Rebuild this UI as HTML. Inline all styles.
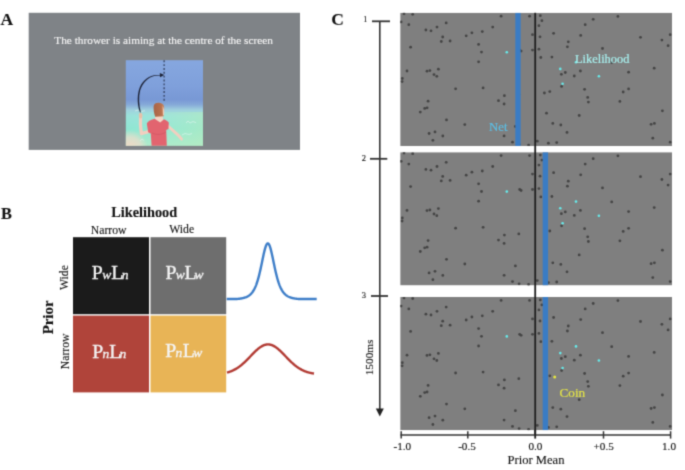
<!DOCTYPE html>
<html><head><meta charset="utf-8"><title>Figure</title>
<style>
html,body{margin:0;padding:0;background:#fff;width:685px;height:470px;overflow:hidden}
svg{display:block}
body{font-family:"Liberation Serif",serif}

</style></head><body>
<svg width="685" height="470" viewBox="0 0 685 470" fill="#111">
<defs><filter id="soft" color-interpolation-filters="sRGB" x="0" y="0" width="685" height="470" filterUnits="userSpaceOnUse"><feConvolveMatrix order="3" kernelMatrix="1 4 1 4 16 4 1 4 1" edgeMode="duplicate"/></filter></defs>
<rect width="685" height="470" fill="#fff"/>
<g filter="url(#soft)">
<rect width="685" height="470" fill="#fff"/>
<text x="0.6" y="24.6" text-anchor="start" style="font-family:&quot;Liberation Serif&quot;,serif;font-size:17.5px;font-weight:bold;fill:#111;stroke:#111;stroke-width:0.1px;">A</text>
<text x="0.9" y="218.6" text-anchor="start" style="font-family:&quot;Liberation Serif&quot;,serif;font-size:16.4px;font-weight:bold;fill:#111;stroke:#111;stroke-width:0.1px;">B</text>
<text x="331.2" y="24.6" text-anchor="start" style="font-family:&quot;Liberation Serif&quot;,serif;font-size:17.5px;font-weight:bold;fill:#111;stroke:#111;stroke-width:0.1px;">C</text>
<rect x="28.7" y="12.8" width="271.3" height="137.1" fill="#7f8387"/>
<text x="54.3" y="43.8" text-anchor="start" style="font-family:&quot;Liberation Serif&quot;,serif;font-size:11.3px;font-weight:normal;fill:#f6f6f6;stroke:#f6f6f6;stroke-width:0.12px;">The thrower is aiming at the centre of the screen</text>
<defs>
<linearGradient id="sky" x1="0" y1="60" x2="0" y2="146" gradientUnits="userSpaceOnUse">
<stop offset="0" stop-color="#86a7df"/>
<stop offset="0.3" stop-color="#7fa0db"/>
<stop offset="0.46" stop-color="#7898d5"/>
<stop offset="0.52" stop-color="#86aad8"/>
<stop offset="0.58" stop-color="#a0d0de"/>
<stop offset="0.65" stop-color="#9ae2da"/>
<stop offset="0.8" stop-color="#8fe6d2"/>
<stop offset="1" stop-color="#b0eac8"/>
</linearGradient>
<radialGradient id="peach" cx="130" cy="148" r="18" gradientUnits="userSpaceOnUse">
<stop offset="0" stop-color="#f0d8c4" stop-opacity="1"/>
<stop offset="0.6" stop-color="#eedccc" stop-opacity="0.7"/>
<stop offset="1" stop-color="#eedccc" stop-opacity="0"/>
</radialGradient>
<linearGradient id="green" x1="126" y1="0" x2="203" y2="0" gradientUnits="userSpaceOnUse">
<stop offset="0" stop-color="#a8f0e0" stop-opacity="0"/>
<stop offset="1" stop-color="#b4ecc0" stop-opacity="0.6"/>
</linearGradient>
<linearGradient id="hair" x1="0" y1="0" x2="1" y2="0">
<stop offset="0" stop-color="#a86446"/>
<stop offset="0.7" stop-color="#b8724e"/>
<stop offset="1" stop-color="#c88a66"/>
</linearGradient>
</defs>
<rect x="125.8" y="60.2" width="77.2" height="85.6" fill="url(#sky)"/>
<rect x="125.8" y="112" width="77.2" height="33.8" fill="url(#green)"/>
<rect x="125.8" y="120" width="40" height="25.8" fill="url(#peach)"/>
<path d="M135,111 l3,-1 l3,1.5 l4,-0.8 M186,123 l2,-2 l2,2 l3,-1.5 l3,1.2 M182,135 l3,-1.5 l4,1 l3,-1 M140,141 l2,-2 l2,1.5" stroke="#e6f6f2" stroke-width="0.7" fill="none" opacity="0.8"/>
<line x1="164.1" y1="60.3" x2="164.1" y2="102.6" stroke="#222b45" stroke-width="1.05" stroke-dasharray="1.9,1.95"/>
<path d="M140.0,112.6 C137.5,106 137.0,97 138.9,90 C141.2,82 147,76.6 154,75.2 L160.5,74.9 L160.5,75.6 L154.2,76.0 C148,77.4 142.5,83 140.2,90.3 C138.4,97 139,105 140.8,112.2 Z" fill="#1c2236"/>
<path d="M164.3,75.1 L159.8,72.9 L160.0,77.3 Z" fill="#1c2236"/>
<path d="M167.5,125.5 C171,129 176,133 179,136 L181.6,139.2" stroke="#f2cfc0" stroke-width="2.8" fill="none" stroke-linecap="round"/>
<path d="M149,131.5 L141.4,133.6 C140.4,128 140.2,121 140.6,115" stroke="#f2cfc0" stroke-width="3.2" fill="none" stroke-linecap="round" stroke-linejoin="round"/>
<ellipse cx="140.6" cy="115.6" rx="1.8" ry="2.8" fill="#e8c0a8"/>
<path d="M155,115 L162.6,115 L163.2,120.5 L160.2,123 L155.2,119.5 Z" fill="#f4d6c6"/>
<path d="M146.8,123.6 C148,121.5 150,120 154.6,118.8 L160.2,122.6 L164,119.3 C165.5,120 167,120.8 168.8,122.6 L168.4,129 L166.2,130 L166.8,145.8 L151.6,145.8 L150.8,133.4 L148.2,132.2 Z" fill="#e2646f"/>
<path d="M152,133 C156,135 162,135 166,132" stroke="#c84e5c" stroke-width="0.5" fill="none"/>
<path d="M153.6,106.5 C153.8,103.6 156.5,102.6 159,102.8 C162,103 164.2,104.6 164.2,107.5 L163.8,116.2 L155.2,116.8 C154,113.5 153.5,110 153.6,106.5 Z" fill="url(#hair)"/>
<path d="M162.6,106 C164,108 164.6,111 164,114.5 L163,116 Z" fill="#f0cbb8"/>
<text x="111.2" y="217" text-anchor="start" style="font-family:&quot;Liberation Serif&quot;,serif;font-size:14.3px;font-weight:bold;fill:#111;stroke:#111;stroke-width:0.1px;">Likelihood</text>
<text x="90.8" y="233.6" text-anchor="start" style="font-family:&quot;Liberation Serif&quot;,serif;font-size:11.7px;font-weight:normal;fill:#111;stroke:#111;stroke-width:0.12px;">Narrow</text>
<text x="169.3" y="233.4" text-anchor="start" style="font-family:&quot;Liberation Serif&quot;,serif;font-size:11.7px;font-weight:normal;fill:#111;stroke:#111;stroke-width:0.12px;">Wide</text>
<rect x="73" y="237.2" width="76" height="77" fill="#1b1b1b"/>
<rect x="150.5" y="237.2" width="75.7" height="77" fill="#6e6e6e"/>
<rect x="73" y="315.6" width="76" height="76.8" fill="#b0443a"/>
<rect x="150.5" y="315.6" width="75.7" height="76.8" fill="#e8b456"/>
<text y="278.9" style="font-family:&quot;Liberation Serif&quot;,serif;fill:#f4f4f4;stroke:#f4f4f4;stroke-width:0.35px"><tspan x="91.85" font-size="19.8">P</tspan><tspan x="102.3" font-size="13.5" font-style="italic">w</tspan><tspan x="111.2" font-size="19.8">L</tspan><tspan x="121.8" font-size="13.5" font-style="italic">n</tspan></text>
<text y="278.8" style="font-family:&quot;Liberation Serif&quot;,serif;fill:#f4f4f4;stroke:#f4f4f4;stroke-width:0.35px"><tspan x="165.4" font-size="19.8">P</tspan><tspan x="175.8" font-size="13.5" font-style="italic">w</tspan><tspan x="184.6" font-size="19.8">L</tspan><tspan x="194.4" font-size="13.5" font-style="italic">w</tspan></text>
<text y="357.6" style="font-family:&quot;Liberation Serif&quot;,serif;fill:#f4f4f4;stroke:#f4f4f4;stroke-width:0.35px"><tspan x="92.2" font-size="19.8">P</tspan><tspan x="102.5" font-size="13.5" font-style="italic">n</tspan><tspan x="109.3" font-size="19.8">L</tspan><tspan x="119.5" font-size="13.5" font-style="italic">n</tspan></text>
<text y="357.4" style="font-family:&quot;Liberation Serif&quot;,serif;fill:#f4f4f4;stroke:#f4f4f4;stroke-width:0.35px"><tspan x="165.15" font-size="19.8">P</tspan><tspan x="175.4" font-size="13.5" font-style="italic">n</tspan><tspan x="182.7" font-size="19.8">L</tspan><tspan x="193.3" font-size="13.5" font-style="italic">w</tspan></text>
<text transform="translate(68.4,277.6) rotate(-90)" text-anchor="middle" style="font-family:&quot;Liberation Serif&quot;,serif;font-size:11.7px;font-weight:normal;fill:#111;stroke:#111;stroke-width:0.12px;">Wide</text>
<text transform="translate(52.7,317.4) rotate(-90)" text-anchor="middle" style="font-family:&quot;Liberation Serif&quot;,serif;font-size:14.9px;font-weight:bold;fill:#111;stroke:#111;stroke-width:0.1px;">Prior</text>
<text transform="translate(68.6,351.4) rotate(-90)" text-anchor="middle" style="font-family:&quot;Liberation Serif&quot;,serif;font-size:11.7px;font-weight:normal;fill:#111;stroke:#111;stroke-width:0.12px;">Narrow</text>
<path d="M226.70,299.00 L227.20,299.00 L227.70,299.00 L228.20,299.00 L228.70,299.00 L229.20,299.00 L229.70,299.00 L230.20,299.00 L230.70,299.00 L231.20,299.00 L231.70,299.00 L232.20,299.00 L232.70,299.00 L233.20,299.00 L233.70,299.00 L234.20,299.00 L234.70,299.00 L235.20,299.00 L235.70,299.00 L236.20,299.00 L236.70,299.00 L237.20,298.97 L237.70,298.92 L238.20,298.87 L238.70,298.81 L239.20,298.75 L239.70,298.69 L240.20,298.62 L240.70,298.54 L241.20,298.46 L241.70,298.37 L242.20,298.27 L242.70,298.17 L243.20,298.05 L243.70,297.92 L244.20,297.78 L244.70,297.63 L245.20,297.46 L245.70,297.28 L246.20,297.08 L246.70,296.86 L247.20,296.62 L247.70,296.36 L248.20,296.07 L248.70,295.75 L249.20,295.40 L249.70,295.02 L250.20,294.60 L250.70,294.13 L251.20,293.62 L251.70,293.06 L252.20,292.45 L252.70,291.77 L253.20,291.03 L253.70,290.21 L254.20,289.32 L254.70,288.34 L255.20,287.28 L255.70,286.11 L256.20,284.85 L256.70,283.47 L257.20,281.99 L257.70,280.39 L258.20,278.67 L258.70,276.83 L259.20,274.87 L259.70,272.80 L260.20,270.63 L260.70,268.37 L261.20,266.03 L261.70,263.64 L262.20,261.22 L262.70,258.80 L263.20,256.42 L263.70,254.12 L264.20,251.93 L264.70,249.91 L265.20,248.10 L265.70,246.53 L266.20,245.25 L266.70,244.28 L267.20,243.66 L267.70,243.41 L268.20,243.52 L268.70,243.99 L269.20,244.82 L269.70,245.98 L270.20,247.44 L270.70,249.16 L271.20,251.10 L271.70,253.23 L272.20,255.49 L272.70,257.84 L273.20,260.25 L273.70,262.67 L274.20,265.08 L274.70,267.44 L275.20,269.74 L275.70,271.95 L276.20,274.06 L276.70,276.06 L277.20,277.94 L277.70,279.71 L278.20,281.36 L278.70,282.89 L279.20,284.31 L279.70,285.62 L280.20,286.82 L280.70,287.93 L281.20,288.94 L281.70,289.86 L282.20,290.71 L282.70,291.48 L283.20,292.18 L283.70,292.82 L284.20,293.40 L284.70,293.93 L285.20,294.42 L285.70,294.85 L286.20,295.25 L286.70,295.62 L287.20,295.95 L287.70,296.25 L288.20,296.52 L288.70,296.77 L289.20,297.00 L289.70,297.20 L290.20,297.39 L290.70,297.57 L291.20,297.72 L291.70,297.87 L292.20,298.00 L292.70,298.12 L293.20,298.23 L293.70,298.33 L294.20,298.43 L294.70,298.51 L295.20,298.59 L295.70,298.66 L296.20,298.73 L296.70,298.79 L297.20,298.85 L297.70,298.90 L298.20,298.95 L298.70,298.99 L299.20,299.00 L299.70,299.00 L300.20,299.00 L300.70,299.00 L301.20,299.00 L301.70,299.00 L302.20,299.00 L302.70,299.00 L303.20,299.00 L303.70,299.00 L304.20,299.00 L304.70,299.00 L305.20,299.00 L305.70,299.00 L306.20,299.00 L306.70,299.00 L307.20,299.00 L307.70,299.00 L308.20,299.00 L308.70,299.00 L309.20,299.00 L309.70,299.00 L310.20,299.00 L310.70,299.00 L311.20,299.00 L311.70,299.00 L312.20,299.00 L312.70,299.00 L313.20,299.00 L313.70,299.00 L314.20,299.00 L314.70,299.00 L315.20,299.00 L315.70,299.00 L316.20,299.00 L316.70,299.00" fill="none" stroke="#3e7ec8" stroke-width="2.4" stroke-linejoin="round"/>
<path d="M227.00,372.57 L227.50,372.43 L228.00,372.29 L228.50,372.14 L229.00,371.99 L229.50,371.82 L230.00,371.65 L230.50,371.47 L231.00,371.28 L231.50,371.08 L232.00,370.87 L232.50,370.65 L233.00,370.43 L233.50,370.19 L234.00,369.94 L234.50,369.68 L235.00,369.41 L235.50,369.13 L236.00,368.84 L236.50,368.54 L237.00,368.23 L237.50,367.91 L238.00,367.58 L238.50,367.23 L239.00,366.87 L239.50,366.51 L240.00,366.13 L240.50,365.74 L241.00,365.34 L241.50,364.94 L242.00,364.52 L242.50,364.09 L243.00,363.65 L243.50,363.20 L244.00,362.75 L244.50,362.28 L245.00,361.81 L245.50,361.33 L246.00,360.84 L246.50,360.35 L247.00,359.85 L247.50,359.34 L248.00,358.83 L248.50,358.32 L249.00,357.80 L249.50,357.29 L250.00,356.76 L250.50,356.24 L251.00,355.72 L251.50,355.20 L252.00,354.68 L252.50,354.17 L253.00,353.65 L253.50,353.15 L254.00,352.64 L254.50,352.15 L255.00,351.66 L255.50,351.18 L256.00,350.71 L256.50,350.25 L257.00,349.80 L257.50,349.36 L258.00,348.93 L258.50,348.52 L259.00,348.13 L259.50,347.75 L260.00,347.39 L260.50,347.04 L261.00,346.71 L261.50,346.41 L262.00,346.12 L262.50,345.85 L263.00,345.60 L263.50,345.38 L264.00,345.18 L264.50,345.00 L265.00,344.84 L265.50,344.71 L266.00,344.60 L266.50,344.51 L267.00,344.45 L267.50,344.41 L268.00,344.40 L268.50,344.41 L269.00,344.45 L269.50,344.51 L270.00,344.60 L270.50,344.71 L271.00,344.84 L271.50,345.00 L272.00,345.18 L272.50,345.38 L273.00,345.60 L273.50,345.85 L274.00,346.12 L274.50,346.41 L275.00,346.71 L275.50,347.04 L276.00,347.39 L276.50,347.75 L277.00,348.13 L277.50,348.52 L278.00,348.93 L278.50,349.36 L279.00,349.80 L279.50,350.25 L280.00,350.71 L280.50,351.18 L281.00,351.66 L281.50,352.15 L282.00,352.64 L282.50,353.15 L283.00,353.65 L283.50,354.17 L284.00,354.68 L284.50,355.20 L285.00,355.72 L285.50,356.24 L286.00,356.76 L286.50,357.29 L287.00,357.80 L287.50,358.32 L288.00,358.83 L288.50,359.34 L289.00,359.85 L289.50,360.35 L290.00,360.84 L290.50,361.33 L291.00,361.81 L291.50,362.28 L292.00,362.75 L292.50,363.20 L293.00,363.65 L293.50,364.09 L294.00,364.52 L294.50,364.94 L295.00,365.34 L295.50,365.74 L296.00,366.13 L296.50,366.51 L297.00,366.87 L297.50,367.23 L298.00,367.58 L298.50,367.91 L299.00,368.23 L299.50,368.54 L300.00,368.84 L300.50,369.13 L301.00,369.41 L301.50,369.68 L302.00,369.94 L302.50,370.19 L303.00,370.43 L303.50,370.65 L304.00,370.87 L304.50,371.08 L305.00,371.28 L305.50,371.47 L306.00,371.65 L306.50,371.82 L307.00,371.99 L307.50,372.14 L308.00,372.29 L308.50,372.43 L309.00,372.57 L309.50,372.69 L310.00,372.81 L310.50,372.92 L311.00,373.03 L311.50,373.13 L312.00,373.22 L312.50,373.31 L313.00,373.40 L313.50,373.48 L314.00,373.55" fill="none" stroke="#b23b34" stroke-width="2.4" stroke-linejoin="round"/>
<defs><clipPath id="pclip"><rect x="0" y="0" width="271.8" height="133.2"/></clipPath></defs>
<g transform="translate(400.2,12.8)" clip-path="url(#pclip)"><rect x="0" y="0" width="271.8" height="133.2" fill="#7f7f7f"/><g fill="#444444"><circle cx="12.5" cy="1.5" r="1.4"/><circle cx="3.8" cy="0.9" r="1.4"/><circle cx="8.6" cy="11.9" r="1.4"/><circle cx="46" cy="10.1" r="1.4"/><circle cx="36.8" cy="14.3" r="1.4"/><circle cx="25.7" cy="17.2" r="1.4"/><circle cx="30.8" cy="18.0" r="1.4"/><circle cx="42.5" cy="24.2" r="1.4"/><circle cx="66" cy="23.0" r="1.4"/><circle cx="41.1" cy="28.7" r="1.4"/><circle cx="49.9" cy="28.2" r="1.4"/><circle cx="10.4" cy="34.4" r="1.4"/><circle cx="6.8" cy="58.2" r="1.4"/><circle cx="26.8" cy="58.4" r="1.4"/><circle cx="29.7" cy="57.8" r="1.4"/><circle cx="38.2" cy="56.4" r="1.4"/><circle cx="33.8" cy="61.8" r="1.4"/><circle cx="36.6" cy="63.5" r="1.4"/><circle cx="2.1" cy="65.7" r="1.4"/><circle cx="0.9" cy="9.1" r="1.4"/><circle cx="100.9" cy="3.4" r="1.4"/><circle cx="129.4" cy="3.4" r="1.4"/><circle cx="92.5" cy="14.3" r="1.4"/><circle cx="82.1" cy="18.8" r="1.4"/><circle cx="71.7" cy="20.0" r="1.4"/><circle cx="132.3" cy="21.9" r="1.4"/><circle cx="78.4" cy="31.6" r="1.4"/><circle cx="81.3" cy="39.3" r="1.4"/><circle cx="119.5" cy="37.3" r="1.4"/><circle cx="120.9" cy="38.3" r="1.4"/><circle cx="132.3" cy="37.3" r="1.4"/><circle cx="78.4" cy="49.0" r="1.4"/><circle cx="140.1" cy="2.9" r="1.4"/><circle cx="141.7" cy="7.9" r="1.4"/><circle cx="138.7" cy="12.9" r="1.4"/><circle cx="193" cy="6.5" r="1.4"/><circle cx="185" cy="11.9" r="1.4"/><circle cx="153.4" cy="20.5" r="1.4"/><circle cx="180.5" cy="22.6" r="1.4"/><circle cx="139.8" cy="24.0" r="1.4"/><circle cx="168.1" cy="29.0" r="1.4"/><circle cx="167.2" cy="34.0" r="1.4"/><circle cx="138.7" cy="36.4" r="1.4"/><circle cx="151.7" cy="44.3" r="1.4"/><circle cx="140.6" cy="44.7" r="1.4"/><circle cx="180.2" cy="58.2" r="1.4"/><circle cx="165.1" cy="59.7" r="1.4"/><circle cx="161.2" cy="61.5" r="1.4"/><circle cx="174.1" cy="63.2" r="1.4"/><circle cx="217.7" cy="3.6" r="1.4"/><circle cx="240.3" cy="24.5" r="1.4"/><circle cx="261.7" cy="27.3" r="1.4"/><circle cx="270" cy="21.9" r="1.4"/><circle cx="267.9" cy="32.9" r="1.4"/><circle cx="202.3" cy="35.7" r="1.4"/><circle cx="211.5" cy="49.7" r="1.4"/><circle cx="254" cy="55.4" r="1.4"/><circle cx="228.4" cy="59.4" r="1.4"/><circle cx="1.9" cy="68.8" r="1.4"/><circle cx="55.4" cy="76.0" r="1.4"/><circle cx="27.9" cy="88.4" r="1.4"/><circle cx="24.5" cy="95.6" r="1.4"/><circle cx="26.9" cy="95.0" r="1.4"/><circle cx="20.1" cy="99.3" r="1.4"/><circle cx="46.3" cy="107.1" r="1.4"/><circle cx="64.6" cy="111.8" r="1.4"/><circle cx="28.9" cy="120.7" r="1.4"/><circle cx="34.8" cy="119.1" r="1.4"/><circle cx="42.6" cy="123.2" r="1.4"/><circle cx="32.7" cy="127.5" r="1.4"/><circle cx="82.9" cy="75.1" r="1.4"/><circle cx="104.2" cy="82.9" r="1.4"/><circle cx="118.6" cy="81.7" r="1.4"/><circle cx="98.3" cy="87.9" r="1.4"/><circle cx="103.9" cy="91.2" r="1.4"/><circle cx="115.2" cy="113.7" r="1.4"/><circle cx="103.9" cy="123.1" r="1.4"/><circle cx="112.3" cy="129.4" r="1.4"/><circle cx="118.9" cy="131.6" r="1.4"/><circle cx="128.4" cy="132.3" r="1.4"/><circle cx="161.4" cy="73.6" r="1.4"/><circle cx="149.6" cy="78.8" r="1.4"/><circle cx="184.4" cy="76.5" r="1.4"/><circle cx="187.5" cy="84.6" r="1.4"/><circle cx="188.2" cy="89.3" r="1.4"/><circle cx="179" cy="102.7" r="1.4"/><circle cx="152.6" cy="110.6" r="1.4"/><circle cx="160.6" cy="112.2" r="1.4"/><circle cx="166.8" cy="119.6" r="1.4"/><circle cx="137.1" cy="128.4" r="1.4"/><circle cx="148.2" cy="130.4" r="1.4"/><circle cx="156.5" cy="129.8" r="1.4"/><circle cx="144.2" cy="80.2" r="1.4"/><circle cx="146.3" cy="100.4" r="1.4"/><circle cx="228.4" cy="76.1" r="1.4"/><circle cx="223" cy="79.2" r="1.4"/><circle cx="219.7" cy="88.6" r="1.4"/><circle cx="262.2" cy="98.0" r="1.4"/><circle cx="250.9" cy="111.5" r="1.4"/><circle cx="254.2" cy="110.6" r="1.4"/><circle cx="252.6" cy="125.4" r="1.4"/><circle cx="270" cy="129.4" r="1.4"/></g><rect x="115.1" y="0" width="5.4" height="133.2" fill="#3a7cc4"/><g fill="#66ecec"><circle cx="106.6" cy="39.4" r="1.3"/><circle cx="160.1" cy="56.1" r="1.3"/><circle cx="175.8" cy="49.4" r="1.3"/><circle cx="198.7" cy="63.5" r="1.3"/><circle cx="162.4" cy="71.0" r="1.3"/></g></g>
<g transform="translate(400.2,152.2)" clip-path="url(#pclip)"><rect x="0" y="0" width="271.8" height="133.2" fill="#7f7f7f"/><g fill="#444444"><circle cx="12.5" cy="1.5" r="1.4"/><circle cx="3.8" cy="0.9" r="1.4"/><circle cx="8.6" cy="11.9" r="1.4"/><circle cx="46" cy="10.1" r="1.4"/><circle cx="36.8" cy="14.3" r="1.4"/><circle cx="25.7" cy="17.2" r="1.4"/><circle cx="30.8" cy="18.0" r="1.4"/><circle cx="42.5" cy="24.2" r="1.4"/><circle cx="66" cy="23.0" r="1.4"/><circle cx="41.1" cy="28.7" r="1.4"/><circle cx="49.9" cy="28.2" r="1.4"/><circle cx="10.4" cy="34.4" r="1.4"/><circle cx="6.8" cy="58.2" r="1.4"/><circle cx="26.8" cy="58.4" r="1.4"/><circle cx="29.7" cy="57.8" r="1.4"/><circle cx="38.2" cy="56.4" r="1.4"/><circle cx="33.8" cy="61.8" r="1.4"/><circle cx="36.6" cy="63.5" r="1.4"/><circle cx="2.1" cy="65.7" r="1.4"/><circle cx="0.9" cy="9.1" r="1.4"/><circle cx="100.9" cy="3.4" r="1.4"/><circle cx="129.4" cy="3.4" r="1.4"/><circle cx="92.5" cy="14.3" r="1.4"/><circle cx="82.1" cy="18.8" r="1.4"/><circle cx="71.7" cy="20.0" r="1.4"/><circle cx="132.3" cy="21.9" r="1.4"/><circle cx="78.4" cy="31.6" r="1.4"/><circle cx="81.3" cy="39.3" r="1.4"/><circle cx="119.5" cy="37.3" r="1.4"/><circle cx="120.9" cy="38.3" r="1.4"/><circle cx="132.3" cy="37.3" r="1.4"/><circle cx="78.4" cy="49.0" r="1.4"/><circle cx="140.1" cy="2.9" r="1.4"/><circle cx="141.7" cy="7.9" r="1.4"/><circle cx="138.7" cy="12.9" r="1.4"/><circle cx="193" cy="6.5" r="1.4"/><circle cx="185" cy="11.9" r="1.4"/><circle cx="153.4" cy="20.5" r="1.4"/><circle cx="180.5" cy="22.6" r="1.4"/><circle cx="139.8" cy="24.0" r="1.4"/><circle cx="168.1" cy="29.0" r="1.4"/><circle cx="167.2" cy="34.0" r="1.4"/><circle cx="138.7" cy="36.4" r="1.4"/><circle cx="151.7" cy="44.3" r="1.4"/><circle cx="140.6" cy="44.7" r="1.4"/><circle cx="180.2" cy="58.2" r="1.4"/><circle cx="165.1" cy="59.7" r="1.4"/><circle cx="161.2" cy="61.5" r="1.4"/><circle cx="174.1" cy="63.2" r="1.4"/><circle cx="217.7" cy="3.6" r="1.4"/><circle cx="240.3" cy="24.5" r="1.4"/><circle cx="261.7" cy="27.3" r="1.4"/><circle cx="270" cy="21.9" r="1.4"/><circle cx="267.9" cy="32.9" r="1.4"/><circle cx="202.3" cy="35.7" r="1.4"/><circle cx="211.5" cy="49.7" r="1.4"/><circle cx="254" cy="55.4" r="1.4"/><circle cx="228.4" cy="59.4" r="1.4"/><circle cx="1.9" cy="68.8" r="1.4"/><circle cx="55.4" cy="76.0" r="1.4"/><circle cx="27.9" cy="88.4" r="1.4"/><circle cx="24.5" cy="95.6" r="1.4"/><circle cx="26.9" cy="95.0" r="1.4"/><circle cx="20.1" cy="99.3" r="1.4"/><circle cx="46.3" cy="107.1" r="1.4"/><circle cx="64.6" cy="111.8" r="1.4"/><circle cx="28.9" cy="120.7" r="1.4"/><circle cx="34.8" cy="119.1" r="1.4"/><circle cx="42.6" cy="123.2" r="1.4"/><circle cx="32.7" cy="127.5" r="1.4"/><circle cx="82.9" cy="75.1" r="1.4"/><circle cx="104.2" cy="82.9" r="1.4"/><circle cx="118.6" cy="81.7" r="1.4"/><circle cx="98.3" cy="87.9" r="1.4"/><circle cx="103.9" cy="91.2" r="1.4"/><circle cx="115.2" cy="113.7" r="1.4"/><circle cx="103.9" cy="123.1" r="1.4"/><circle cx="112.3" cy="129.4" r="1.4"/><circle cx="118.9" cy="131.6" r="1.4"/><circle cx="128.4" cy="132.3" r="1.4"/><circle cx="161.4" cy="73.6" r="1.4"/><circle cx="149.6" cy="78.8" r="1.4"/><circle cx="184.4" cy="76.5" r="1.4"/><circle cx="187.5" cy="84.6" r="1.4"/><circle cx="188.2" cy="89.3" r="1.4"/><circle cx="179" cy="102.7" r="1.4"/><circle cx="152.6" cy="110.6" r="1.4"/><circle cx="160.6" cy="112.2" r="1.4"/><circle cx="166.8" cy="119.6" r="1.4"/><circle cx="137.1" cy="128.4" r="1.4"/><circle cx="148.2" cy="130.4" r="1.4"/><circle cx="156.5" cy="129.8" r="1.4"/><circle cx="144.2" cy="80.2" r="1.4"/><circle cx="146.3" cy="100.4" r="1.4"/><circle cx="228.4" cy="76.1" r="1.4"/><circle cx="223" cy="79.2" r="1.4"/><circle cx="219.7" cy="88.6" r="1.4"/><circle cx="262.2" cy="98.0" r="1.4"/><circle cx="250.9" cy="111.5" r="1.4"/><circle cx="254.2" cy="110.6" r="1.4"/><circle cx="252.6" cy="125.4" r="1.4"/><circle cx="270" cy="129.4" r="1.4"/></g><rect x="142.5" y="0" width="5.4" height="133.2" fill="#3a7cc4"/><g fill="#66ecec"><circle cx="106.6" cy="39.4" r="1.3"/><circle cx="160.1" cy="56.1" r="1.3"/><circle cx="175.8" cy="49.4" r="1.3"/><circle cx="198.7" cy="63.5" r="1.3"/><circle cx="162.4" cy="71.0" r="1.3"/></g></g>
<g transform="translate(400.2,297.0)" clip-path="url(#pclip)"><rect x="0" y="0" width="271.8" height="133.2" fill="#7f7f7f"/><g fill="#444444"><circle cx="12.5" cy="1.5" r="1.4"/><circle cx="3.8" cy="0.9" r="1.4"/><circle cx="8.6" cy="11.9" r="1.4"/><circle cx="46" cy="10.1" r="1.4"/><circle cx="36.8" cy="14.3" r="1.4"/><circle cx="25.7" cy="17.2" r="1.4"/><circle cx="30.8" cy="18.0" r="1.4"/><circle cx="42.5" cy="24.2" r="1.4"/><circle cx="66" cy="23.0" r="1.4"/><circle cx="41.1" cy="28.7" r="1.4"/><circle cx="49.9" cy="28.2" r="1.4"/><circle cx="10.4" cy="34.4" r="1.4"/><circle cx="6.8" cy="58.2" r="1.4"/><circle cx="26.8" cy="58.4" r="1.4"/><circle cx="29.7" cy="57.8" r="1.4"/><circle cx="38.2" cy="56.4" r="1.4"/><circle cx="33.8" cy="61.8" r="1.4"/><circle cx="36.6" cy="63.5" r="1.4"/><circle cx="2.1" cy="65.7" r="1.4"/><circle cx="0.9" cy="9.1" r="1.4"/><circle cx="100.9" cy="3.4" r="1.4"/><circle cx="129.4" cy="3.4" r="1.4"/><circle cx="92.5" cy="14.3" r="1.4"/><circle cx="82.1" cy="18.8" r="1.4"/><circle cx="71.7" cy="20.0" r="1.4"/><circle cx="132.3" cy="21.9" r="1.4"/><circle cx="78.4" cy="31.6" r="1.4"/><circle cx="81.3" cy="39.3" r="1.4"/><circle cx="119.5" cy="37.3" r="1.4"/><circle cx="120.9" cy="38.3" r="1.4"/><circle cx="132.3" cy="37.3" r="1.4"/><circle cx="78.4" cy="49.0" r="1.4"/><circle cx="140.1" cy="2.9" r="1.4"/><circle cx="141.7" cy="7.9" r="1.4"/><circle cx="138.7" cy="12.9" r="1.4"/><circle cx="193" cy="6.5" r="1.4"/><circle cx="185" cy="11.9" r="1.4"/><circle cx="153.4" cy="20.5" r="1.4"/><circle cx="180.5" cy="22.6" r="1.4"/><circle cx="139.8" cy="24.0" r="1.4"/><circle cx="168.1" cy="29.0" r="1.4"/><circle cx="167.2" cy="34.0" r="1.4"/><circle cx="138.7" cy="36.4" r="1.4"/><circle cx="151.7" cy="44.3" r="1.4"/><circle cx="140.6" cy="44.7" r="1.4"/><circle cx="180.2" cy="58.2" r="1.4"/><circle cx="165.1" cy="59.7" r="1.4"/><circle cx="161.2" cy="61.5" r="1.4"/><circle cx="174.1" cy="63.2" r="1.4"/><circle cx="217.7" cy="3.6" r="1.4"/><circle cx="240.3" cy="24.5" r="1.4"/><circle cx="261.7" cy="27.3" r="1.4"/><circle cx="270" cy="21.9" r="1.4"/><circle cx="267.9" cy="32.9" r="1.4"/><circle cx="202.3" cy="35.7" r="1.4"/><circle cx="211.5" cy="49.7" r="1.4"/><circle cx="254" cy="55.4" r="1.4"/><circle cx="228.4" cy="59.4" r="1.4"/><circle cx="1.9" cy="68.8" r="1.4"/><circle cx="55.4" cy="76.0" r="1.4"/><circle cx="27.9" cy="88.4" r="1.4"/><circle cx="24.5" cy="95.6" r="1.4"/><circle cx="26.9" cy="95.0" r="1.4"/><circle cx="20.1" cy="99.3" r="1.4"/><circle cx="46.3" cy="107.1" r="1.4"/><circle cx="64.6" cy="111.8" r="1.4"/><circle cx="28.9" cy="120.7" r="1.4"/><circle cx="34.8" cy="119.1" r="1.4"/><circle cx="42.6" cy="123.2" r="1.4"/><circle cx="32.7" cy="127.5" r="1.4"/><circle cx="82.9" cy="75.1" r="1.4"/><circle cx="104.2" cy="82.9" r="1.4"/><circle cx="118.6" cy="81.7" r="1.4"/><circle cx="98.3" cy="87.9" r="1.4"/><circle cx="103.9" cy="91.2" r="1.4"/><circle cx="115.2" cy="113.7" r="1.4"/><circle cx="103.9" cy="123.1" r="1.4"/><circle cx="112.3" cy="129.4" r="1.4"/><circle cx="118.9" cy="131.6" r="1.4"/><circle cx="128.4" cy="132.3" r="1.4"/><circle cx="161.4" cy="73.6" r="1.4"/><circle cx="149.6" cy="78.8" r="1.4"/><circle cx="184.4" cy="76.5" r="1.4"/><circle cx="187.5" cy="84.6" r="1.4"/><circle cx="188.2" cy="89.3" r="1.4"/><circle cx="179" cy="102.7" r="1.4"/><circle cx="152.6" cy="110.6" r="1.4"/><circle cx="160.6" cy="112.2" r="1.4"/><circle cx="166.8" cy="119.6" r="1.4"/><circle cx="137.1" cy="128.4" r="1.4"/><circle cx="148.2" cy="130.4" r="1.4"/><circle cx="156.5" cy="129.8" r="1.4"/><circle cx="144.2" cy="80.2" r="1.4"/><circle cx="146.3" cy="100.4" r="1.4"/><circle cx="228.4" cy="76.1" r="1.4"/><circle cx="223" cy="79.2" r="1.4"/><circle cx="219.7" cy="88.6" r="1.4"/><circle cx="262.2" cy="98.0" r="1.4"/><circle cx="250.9" cy="111.5" r="1.4"/><circle cx="254.2" cy="110.6" r="1.4"/><circle cx="252.6" cy="125.4" r="1.4"/><circle cx="270" cy="129.4" r="1.4"/></g><rect x="142.5" y="0" width="5.4" height="133.2" fill="#3a7cc4"/><g fill="#66ecec"><circle cx="106.6" cy="39.4" r="1.3"/><circle cx="160.1" cy="56.1" r="1.3"/><circle cx="175.8" cy="49.4" r="1.3"/><circle cx="198.7" cy="63.5" r="1.3"/><circle cx="162.4" cy="71.0" r="1.3"/></g></g>
<rect x="534.3" y="12.8" width="1.8" height="422" fill="#1e1e1e"/>
<text x="489" y="131.3" text-anchor="start" style="font-family:&quot;Liberation Serif&quot;,serif;font-size:12.8px;font-weight:normal;fill:#5cbee4;stroke:#5cbee4;stroke-width:0.2px;">Net</text>
<text x="575" y="62.5" text-anchor="start" style="font-family:&quot;Liberation Serif&quot;,serif;font-size:12.4px;font-weight:normal;fill:#a8f0ee;stroke:#a8f0ee;stroke-width:0.2px;">Likelihood</text>
<circle cx="554.7" cy="377.1" r="1.5" fill="#e8e840"/>
<text x="559.5" y="397.4" text-anchor="start" style="font-family:&quot;Liberation Serif&quot;,serif;font-size:13.2px;font-weight:normal;fill:#e4e448;stroke:#e4e448;stroke-width:0.2px;">Coin</text>
<line x1="379.8" y1="21" x2="379.8" y2="410" stroke="#333" stroke-width="1.6"/>
<line x1="372" y1="21.3" x2="390" y2="21.3" stroke="#333" stroke-width="1.8"/>
<line x1="370" y1="158.8" x2="387.3" y2="158.8" stroke="#333" stroke-width="1.8"/>
<line x1="371" y1="296" x2="388" y2="296" stroke="#333" stroke-width="1.8"/>
<path d="M375.8,408.6 L383.8,408.6 L379.8,416.4 Z" fill="#222"/>
<text x="363.3" y="22" text-anchor="start" style="font-family:&quot;Liberation Serif&quot;,serif;font-size:8.2px;font-weight:normal;fill:#111;stroke:#111;stroke-width:0.1px;">1</text>
<text x="361.8" y="160.8" text-anchor="start" style="font-family:&quot;Liberation Serif&quot;,serif;font-size:8.5px;font-weight:normal;fill:#111;stroke:#111;stroke-width:0.1px;">2</text>
<text x="361.8" y="298.2" text-anchor="start" style="font-family:&quot;Liberation Serif&quot;,serif;font-size:8.5px;font-weight:normal;fill:#111;stroke:#111;stroke-width:0.1px;">3</text>
<text transform="translate(373.4,357.4) rotate(-90)" text-anchor="middle" style="font-family:&quot;Liberation Serif&quot;,serif;font-size:11.3px;font-weight:normal;fill:#111;stroke:#111;stroke-width:0.12px;">1500ms</text>
<line x1="400.5" y1="434.9" x2="671" y2="434.9" stroke="#333" stroke-width="1.5"/>
<line x1="401.2" y1="431.2" x2="401.2" y2="438.6" stroke="#333" stroke-width="1.5"/>
<line x1="467.8" y1="431.2" x2="467.8" y2="438.6" stroke="#333" stroke-width="1.5"/>
<line x1="603.5" y1="431.2" x2="603.5" y2="438.6" stroke="#333" stroke-width="1.5"/>
<line x1="670.6" y1="431.2" x2="670.6" y2="438.6" stroke="#333" stroke-width="1.5"/>
<rect x="534.3" y="430" width="1.8" height="8.6" fill="#1e1e1e"/>
<text x="402.3" y="450.2" text-anchor="middle" style="font-family:&quot;Liberation Serif&quot;,serif;font-size:11.2px;font-weight:normal;fill:#111;stroke:#111;stroke-width:0.12px;">-1.0</text>
<text x="467" y="450.2" text-anchor="middle" style="font-family:&quot;Liberation Serif&quot;,serif;font-size:11.2px;font-weight:normal;fill:#111;stroke:#111;stroke-width:0.12px;">-0.5</text>
<text x="535.4" y="450.2" text-anchor="middle" style="font-family:&quot;Liberation Serif&quot;,serif;font-size:11.2px;font-weight:normal;fill:#111;stroke:#111;stroke-width:0.12px;">0.0</text>
<text x="603.7" y="450.2" text-anchor="middle" style="font-family:&quot;Liberation Serif&quot;,serif;font-size:11.2px;font-weight:normal;fill:#111;stroke:#111;stroke-width:0.12px;">+0.5</text>
<text x="669" y="450.2" text-anchor="middle" style="font-family:&quot;Liberation Serif&quot;,serif;font-size:11.2px;font-weight:normal;fill:#111;stroke:#111;stroke-width:0.12px;">1.0</text>
<text x="536" y="463.5" text-anchor="middle" style="font-family:&quot;Liberation Serif&quot;,serif;font-size:12.6px;font-weight:normal;fill:#111;stroke:#111;stroke-width:0.12px;">Prior Mean</text>
</g>
</svg>
</body></html>
